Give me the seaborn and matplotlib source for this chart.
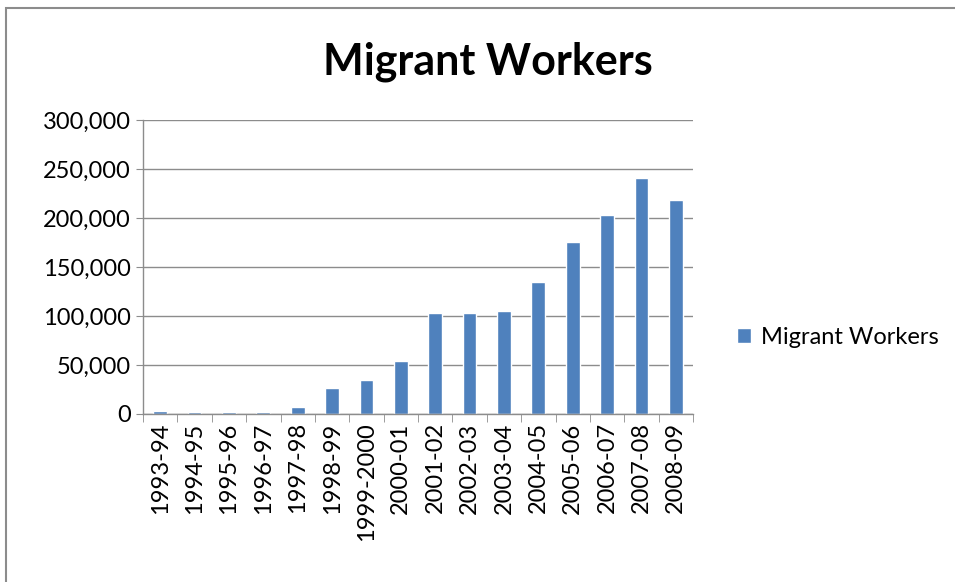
import matplotlib
matplotlib.use("Agg")
import matplotlib.pyplot as plt
import seaborn as sns
import pandas as pd
import numpy as np
from matplotlib.ticker import FuncFormatter, FixedLocator
from matplotlib.patches import Rectangle

years = ["1993-94", "1994-95", "1995-96", "1996-97", "1997-98", "1998-99",
         "1999-2000", "2000-01", "2001-02", "2002-03", "2003-04", "2004-05",
         "2005-06", "2006-07", "2007-08", "2008-09"]
workers = [3100, 1700, 1700, 1700, 6800, 26700, 34500, 54000, 103300, 103300,
           105000, 135000, 175700, 203300, 241000, 218600]
series_name = "Migrant Workers"
yticks = [0, 50000, 100000, 150000, 200000, 250000, 300000]

df = pd.DataFrame({"year": years, "value": workers})

sns.set_style("white")
plt.rcParams["font.family"] = ["Lato", "DejaVu Sans"]
plt.rcParams["text.color"] = "black"
plt.rcParams["xtick.labelcolor"] = "black"
plt.rcParams["ytick.labelcolor"] = "black"

fig = plt.figure(figsize=(9.55, 5.82), dpi=100)
ax = fig.add_axes([143/955, 1-414/582, 550/955, 294/582])

sns.barplot(data=df, x="year", y="value", color="#4F81BD", width=0.4,
            saturation=1, ax=ax, label=series_name)

ax.set_ylim(0, 300000)
ax.set_xlim(-0.5, len(years) - 0.5)
ax.yaxis.set_major_locator(FixedLocator(yticks))
ax.yaxis.set_major_formatter(FuncFormatter(lambda v, p: f"{int(v):,}"))
ax.grid(axis="y", color="#8C8C8C", linewidth=1)
ax.set_axisbelow(True)
ax.set_xlabel("")
ax.set_ylabel("")

for s in ["top", "right"]:
    ax.spines[s].set_visible(False)
for s in ["left", "bottom"]:
    ax.spines[s].set_color("#8C8C8C")
    ax.spines[s].set_linewidth(1)

ax.tick_params(axis="y", which="major", length=5, color="#8C8C8C",
               labelsize=17, pad=4, left=True, labelcolor="black")
ax.tick_params(axis="x", which="major", length=0, labelsize=17, pad=6,
               labelrotation=90, labelcolor="black")
ax.xaxis.set_minor_locator(FixedLocator(np.arange(-0.5, len(years), 1.0)))
ax.tick_params(axis="x", which="minor", length=6, color="#8C8C8C", bottom=True)

fig.text(488/955, 1-62/582, "Migrant Workers", ha="center", va="center",
         fontsize=31, fontweight="bold", color="black")

leg = ax.legend(loc="center left", bbox_to_anchor=(716/955, 1-337/582),
                bbox_transform=fig.transFigure, frameon=False, fontsize=17,
                handlelength=0.6, handleheight=0.6, handletextpad=0.4,
                labelcolor="black")

fig.patches.append(Rectangle((6/955, -0.05), 1.2, 1-8/582+0.05,
                             transform=fig.transFigure, fill=False,
                             edgecolor="#8C8C8C", linewidth=1.5))

fig.savefig("out.png", dpi=100)
